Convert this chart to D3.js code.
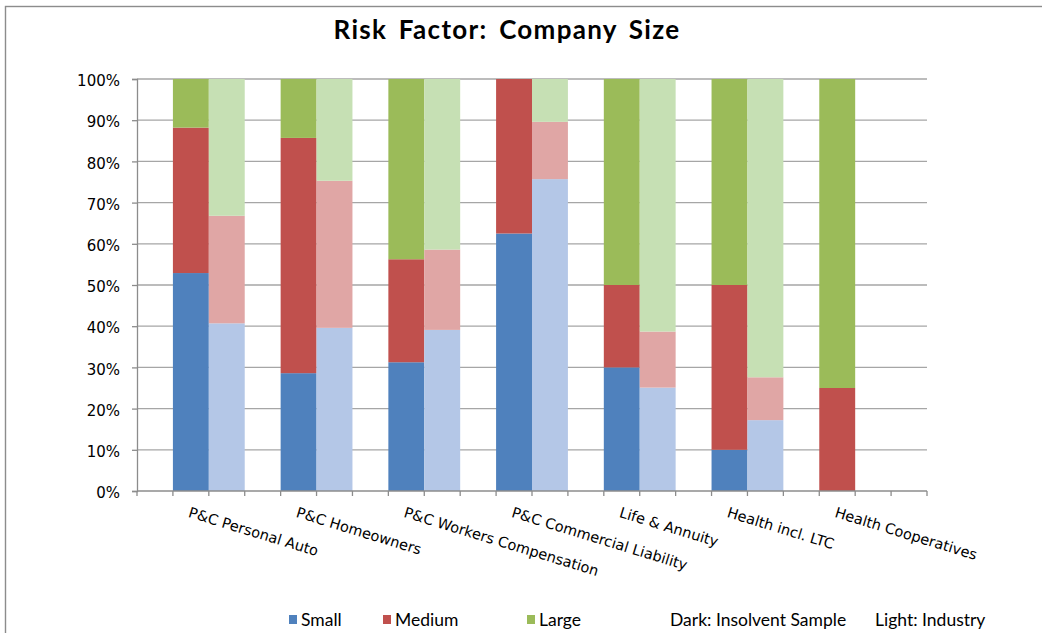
<!DOCTYPE html>
<html>
<head>
<meta charset="utf-8">
<script src="https://cdn.jsdelivr.net/npm/d3@7/dist/d3.min.js"></script>
<style>
  html, body { margin: 0; padding: 0; background: #fff; }
  svg { display: block; }
</style>
</head>
<body>
<svg id="chart" width="1042" height="633"></svg>
<script>
// Company size mix by line of business: insolvent sample (dark) vs. industry (light)
const categories = [
  "P&C Personal Auto",
  "P&C Homeowners",
  "P&C Workers Compensation",
  "P&C Commercial Liability",
  "Life & Annuity",
  "Health incl. LTC",
  "Health Cooperatives"
];
const sizeClasses = ["Small", "Medium", "Large"];

// shares (fractions of 1) per category, Small / Medium / Large
const insolventSmall  = [0.529, 0.286, 0.3125, 0.625, 0.30, 0.10, 0.00];
const insolventMedium = [0.353, 0.571, 0.25,   0.375, 0.20, 0.40, 0.25];
const insolventLarge  = [0.118, 0.143, 0.4375, 0.00,  0.50, 0.50, 0.75];

const industrySmall  = [0.407, 0.396, 0.391, 0.757, 0.251, 0.172, null];
const industryMedium = [0.261, 0.357, 0.195, 0.139, 0.136, 0.104, null];
const industryLarge  = [0.332, 0.247, 0.414, 0.104, 0.613, 0.724, null];

const yTicks = [0, 0.1, 0.2, 0.3, 0.4, 0.5, 0.6, 0.7, 0.8, 0.9, 1.0];

const darkColors  = ["#4F81BD", "#C0504D", "#9BBB59"];
const lightColors = ["#B4C7E7", "#E0A6A5", "#C6E0B4"];

const svg = d3.select("#chart");
const plot = { left: 137, right: 927, top: 79, bottom: 491 };

// outer frame
svg.append("rect")
  .attr("x", 5.5).attr("y", 6.5)
  .attr("width", 1100).attr("height", 700)
  .attr("fill", "none").attr("stroke", "#8c8c8c").attr("stroke-width", 1.4);

// title
svg.append("text")
  .attr("x", 507).attr("y", 39)
  .attr("text-anchor", "middle")
  .style("font-family", "Lato, 'Open Sans', sans-serif")
  .style("font-weight", "bold")
  .style("font-size", "26px")
  .style("letter-spacing", "1.3px")
  .style("word-spacing", "4px")
  .attr("fill", "#000")
  .text("Risk Factor: Company Size");

// each category gets three slots: spacer, insolvent sample, industry; one trailing spacer
const slots = d3.range(categories.length * 3 + 1);
const x = d3.scaleBand().domain(slots).range([plot.left, plot.right]).padding(0);
const y = d3.scaleLinear().domain([0, 1]).range([plot.bottom, plot.top]);

// gridlines
svg.append("g")
  .selectAll("line")
  .data(yTicks.filter(d => d > 0))
  .join("line")
  .attr("x1", plot.left).attr("x2", plot.right)
  .attr("y1", d => y(d)).attr("y2", d => y(d))
  .attr("stroke", "#a6a6a6").attr("stroke-width", 1.3);

// stacked bars
function stackRows(sm, md, lg, colors, slotOffset) {
  const rows = [];
  categories.forEach((c, i) => {
    if (sm[i] === null) return;
    const vals = [sm[i], md[i], lg[i]];
    let base = 0;
    vals.forEach((v, k) => {
      rows.push({ slot: i * 3 + slotOffset, y0: base, y1: base + v, color: colors[k] });
      base += v;
    });
  });
  return rows;
}
const bars = stackRows(insolventSmall, insolventMedium, insolventLarge, darkColors, 1)
  .concat(stackRows(industrySmall, industryMedium, industryLarge, lightColors, 2));

svg.append("g")
  .selectAll("rect")
  .data(bars.filter(d => d.y1 > d.y0))
  .join("rect")
  .attr("x", d => x(d.slot))
  .attr("width", x.bandwidth())
  .attr("y", d => y(d.y1))
  .attr("height", d => y(d.y0) - y(d.y1))
  .attr("fill", d => d.color);

// y axis
const yAxis = svg.append("g")
  .attr("transform", `translate(${plot.left},0)`)
  .call(d3.axisLeft(y).tickValues(yTicks).tickFormat(d3.format(".0%")).tickSize(5).tickPadding(12));
yAxis.select(".domain").attr("stroke", "#8c8c8c").attr("stroke-width", 1.3);
yAxis.selectAll(".tick line").attr("stroke", "#8c8c8c").attr("stroke-width", 1.3);
yAxis.selectAll(".tick text")
  .style("font-family", "'DejaVu Sans', Verdana, sans-serif")
  .style("font-size", "15px")
  .attr("fill", "#000")
  .attr("dy", "0.45em");

// x axis: tick at every slot boundary
const xAxis = svg.append("g").attr("transform", `translate(0,${plot.bottom})`);
xAxis.append("line")
  .attr("x1", plot.left).attr("x2", plot.right)
  .attr("stroke", "#8c8c8c").attr("stroke-width", 1.3);
xAxis.selectAll("line.tk")
  .data(slots.concat([slots.length]))
  .join("line").attr("class", "tk")
  .attr("x1", d => d < slots.length ? x(d) : plot.right)
  .attr("x2", d => d < slots.length ? x(d) : plot.right)
  .attr("y1", 0).attr("y2", 5)
  .attr("stroke", "#8c8c8c").attr("stroke-width", 1.3);

// rotated category labels
svg.append("g")
  .selectAll("text")
  .data(categories)
  .join("text")
  .attr("transform", (d, i) => `translate(${x(i * 3 + 1) + x.bandwidth() / 2},506) rotate(17)`)
  .attr("dy", "0.78em")
  .style("font-family", "'DejaVu Sans', Verdana, sans-serif")
  .style("font-size", "14.5px")
  .attr("fill", "#000")
  .text(d => d);

// legend
const legendFont = "Lato, 'Open Sans', sans-serif";
const legendSize = "17.5px";
const legendX = [289, 383, 527];
const lg = svg.append("g");
sizeClasses.forEach((s, k) => {
  lg.append("rect")
    .attr("x", legendX[k]).attr("y", 615)
    .attr("width", 8).attr("height", 9)
    .attr("fill", darkColors[k]);
  lg.append("text")
    .attr("x", legendX[k] + 12).attr("y", 626)
    .style("font-family", legendFont).style("font-size", legendSize)
    .attr("fill", "#000")
    .text(s);
});
lg.append("text")
  .attr("x", 670).attr("y", 626)
  .style("font-family", legendFont).style("font-size", legendSize)
  .attr("fill", "#000")
  .text("Dark: Insolvent Sample");
lg.append("text")
  .attr("x", 875).attr("y", 626)
  .style("font-family", legendFont).style("font-size", legendSize)
  .attr("fill", "#000")
  .text("Light: Industry");
</script>
</body>
</html>
